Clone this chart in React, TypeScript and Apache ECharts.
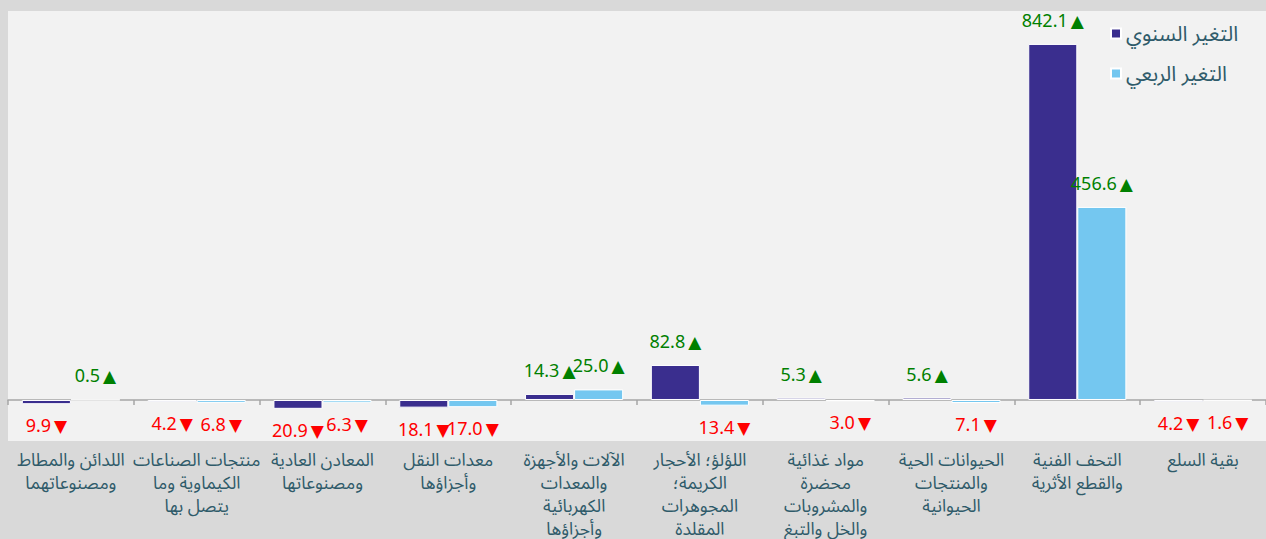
import React, { useEffect, useRef } from "react";
import * as echarts from "echarts";

const categories = [
  "اللدائن والمطاط\nومصنوعاتهما",
  "منتجات الصناعات\nالكيماوية وما\nيتصل بها",
  "المعادن العادية\nومصنوعاتها",
  "معدات النقل\nوأجزاؤها",
  "الآلات والأجهزة\nوالمعدات\nالكهربائية\nوأجزاؤها",
  "اللؤلؤ؛ الأحجار\nالكريمة؛\nالمجوهرات\nالمقلدة",
  "مواد غذائية\nمحضرة\nوالمشروبات\nوالخل والتبغ",
  "الحيوانات الحية\nوالمنتجات\nالحيوانية",
  "التحف الفنية\nوالقطع الأثرية",
  "بقية السلع",
];

const annualName = "التغير السنوي";
const quarterlyName = "التغير الربعي";
const annual = [-9.9, -4.2, -20.9, -18.1, 14.3, 82.8, 5.3, 5.6, 842.1, -4.2];
const quarterly = [0.5, -6.8, -6.3, -17.0, 25.0, -13.4, -3.0, -7.1, 456.6, -1.6];

const FONT = "'Noto Sans Arabic', 'Noto Kufi Arabic', 'Noto Sans', sans-serif";
const TRI_FONT = "'DejaVu Sans'";
const TEXT_COLOR = "#2f5b6a";
const UP = "#008000";
const DOWN = "#ff0000";

function toItems(values: number[]) {
  return values.map((v) => ({
    value: v,
    label: v >= 0 ? { position: "top", distance: 14 } : { position: "bottom", distance: 13 },
  }));
}

function fmt(p: any) {
  const v = p.value as number;
  return v >= 0
    ? `{u|${v.toFixed(1)}}{ut|▲}`
    : `{d|${Math.abs(v).toFixed(1)}}{dt|▼}`;
}

export default function App() {
  const ref = useRef<HTMLDivElement>(null);
  useEffect(() => {
    if (!ref.current) return;
    const chart = echarts.init(ref.current, null, { renderer: "svg" });
    const labelCommon = {
      show: true,
      formatter: fmt,
      rich: {
        u: { color: UP, fontSize: 18, fontFamily: FONT },
        ut: { color: UP, fontSize: 17, fontFamily: TRI_FONT, padding: [0, 0, 0, 3] },
        d: { color: DOWN, fontSize: 18, fontFamily: FONT },
        dt: { color: DOWN, fontSize: 17, fontFamily: TRI_FONT, padding: [0, 0, 0, 3] },
      },
    };
    chart.setOption({
      animation: false,
      backgroundColor: "#d9d9d9",
      textStyle: { fontFamily: FONT },
      grid: {
        left: 8,
        right: 0,
        top: 11,
        bottom: 98,
        show: true,
        backgroundColor: "#f2f2f2",
        borderWidth: 0,
        containLabel: false,
        outerBoundsMode: "none",
      },
      legend: {
        data: [annualName, quarterlyName],
        orient: "vertical",
        left: 1105,
        top: 18,
        icon: "rect",
        itemWidth: 10,
        itemHeight: 10,
        itemGap: 19,
        textStyle: { fontSize: 21, color: TEXT_COLOR, fontFamily: FONT },
      },
      xAxis: {
        type: "category",
        data: categories,
        axisLine: { onZero: true, lineStyle: { color: "#a6a6a6", width: 1.5 } },
        axisTick: { show: true, length: 5, lineStyle: { color: "#a6a6a6", width: 1.5 } },
        axisLabel: {
          interval: 0,
          margin: 8,
          fontSize: 17.5,
          lineHeight: 23,
          color: TEXT_COLOR,
          fontFamily: FONT,
        },
      },
      yAxis: {
        type: "value",
        min: -97,
        max: 920,
        show: false,
        splitLine: { show: false },
      },
      series: [
        {
          name: annualName,
          type: "bar",
          data: toItems(annual),
          barGap: "0%",
          barCategoryGap: "22%",
          itemStyle: { color: "#3a2e8e", borderColor: "#ffffff", borderWidth: 1 },
          label: labelCommon,
        },
        {
          name: quarterlyName,
          type: "bar",
          data: toItems(quarterly),
          barGap: "0%",
          barCategoryGap: "22%",
          itemStyle: { color: "#74c7f0", borderColor: "#ffffff", borderWidth: 1 },
          label: labelCommon,
        },
      ],
    });
    return () => chart.dispose();
  }, []);
  return (
    <div
      ref={ref}
      style={{ position: "fixed", left: 0, top: 0, width: 1266, height: 539 }}
    />
  );
}
